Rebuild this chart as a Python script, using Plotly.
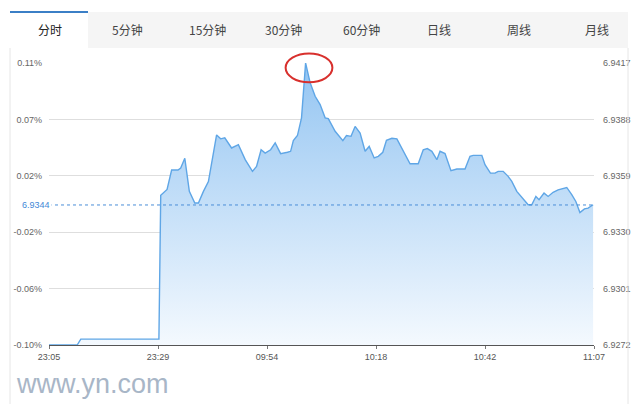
import plotly.graph_objects as go

# ---------------- data ----------------
tab_labels = ["分时", "5分钟", "15分钟", "30分钟", "60分钟", "日线", "周线", "月线"]
x_tick_labels = ["23:05", "23:29", "09:54", "10:18", "10:42", "11:07"]
x_tick_idx = [0, 24, 48, 72, 96, 120]
y_tick_prices = [6.9272, 6.9301, 6.9330, 6.9359, 6.9388, 6.9417]
y_tick_pct = ["-0.10%", "-0.06%", "-0.02%", "0.02%", "0.07%", "0.11%"]
ref_price = 6.9344

minute_idx = [0, 6.2, 7.0, 24.2, 24.6, 26.0, 27.0, 28.4, 29.0, 29.9,
              30.9, 32.1, 32.9, 34.0, 35.1, 36.9, 37.8, 38.7, 40.2, 41.7,
              43.2, 44.8, 45.7, 46.7, 47.6, 48.8, 49.8, 51.0, 52.5, 53.2,
              53.8, 54.7, 55.6, 56.5, 57.5, 58.6, 59.7, 60.8, 61.5, 63.0,
              64.7, 65.5, 66.5, 67.4, 68.5, 69.6, 70.5, 71.6, 72.5, 73.5,
              74.3, 75.5, 76.6, 78.0, 79.5, 81.3, 82.4, 83.3, 84.3, 85.4,
              86.1, 87.2, 88.5, 89.8, 91.6, 92.7, 93.4, 95.3, 96.0, 97.2,
              98.2, 98.9, 100.0, 101.1, 101.9, 103.0, 104.4, 105.5, 106.3, 107.2,
              107.9, 109.0, 109.9, 111.0, 112.1, 114.0, 115.1, 116.0, 116.9, 117.9,
              118.7, 119.8]
price = [6.9272, 6.9272, 6.9275, 6.9275, 6.9349, 6.9352, 6.9362, 6.9362, 6.9363, 6.9368,
         6.9351, 6.9345, 6.9345, 6.9351, 6.9356, 6.9380, 6.9378, 6.93785, 6.93733, 6.93750,
         6.93673, 6.93613, 6.93638, 6.93724, 6.93707, 6.93724, 6.93759, 6.93704, 6.93711, 6.93716,
         6.93771, 6.93797, 6.93888, 6.9417, 6.94068, 6.93999, 6.93956, 6.93888, 6.93884, 6.93819,
         6.93771, 6.93797, 6.93793, 6.93844, 6.93810, 6.93716, 6.93741, 6.93682, 6.9369, 6.93711,
         6.93772, 6.93783, 6.93780, 6.93716, 6.93652, 6.93652, 6.93724, 6.9373, 6.93716, 6.93673,
         6.93716, 6.93704, 6.93616, 6.93625, 6.93625, 6.9369, 6.93695, 6.93695, 6.93647, 6.93604,
         6.93604, 6.93613, 6.93613, 6.93587, 6.93561, 6.9351, 6.9347, 6.93441, 6.93441, 6.93484,
         6.93467, 6.93501, 6.93484, 6.93505, 6.93518, 6.9353, 6.93493, 6.93458, 6.93401, 6.9342,
         6.93424, 6.93441]
assert len(minute_idx) == len(price)

# ---------------- layout geometry (pixels) ----------------
W, H = 640, 404
L, R, T, B = 49, 594, 63, 345
ymin, ymax = y_tick_prices[0], y_tick_prices[-1]
xmin, xmax = x_tick_idx[0], x_tick_idx[-1]


def px(x):
    return (x - L) / (R - L)


def py(y):
    return (B - y) / (B - T)


CJK = "Noto Sans CJK SC, Microsoft YaHei, sans-serif"
NUM = "Liberation Sans, Arial, sans-serif"

fig = go.Figure()

fig.add_trace(go.Scatter(
    x=minute_idx, y=price, mode="lines",
    line=dict(color="#5fa6e6", width=1.4),
    fill="tozeroy",
    fillgradient=dict(type="vertical", start=ymin, stop=ymax,
                      colorscale=[[0, "#f4f9fe"], [1, "#94c5f2"]]),
    hoverinfo="skip", showlegend=False,
))

fig.add_trace(go.Scatter(
    x=[xmin, xmax], y=[ref_price, ref_price], mode="lines", yaxis="y2",
    line=dict(color="#4b8fd8", width=1, dash="3px,3px"),
    hoverinfo="skip", showlegend=False,
))

shapes = []
annotations = []

# tab bar
shapes.append(dict(type="rect", xref="paper", yref="paper",
                   x0=px(10), x1=px(628), y0=py(48), y1=py(12),
                   fillcolor="#f5f5f5", line=dict(width=0), layer="below"))
shapes.append(dict(type="rect", xref="paper", yref="paper",
                   x0=px(10), x1=px(88), y0=py(48), y1=py(12),
                   fillcolor="#ffffff", line=dict(width=0), layer="below"))
shapes.append(dict(type="line", xref="paper", yref="paper",
                   x0=px(10), x1=px(88), y0=py(12), y1=py(12),
                   line=dict(color="#3b7fc6", width=2)))
# panel borders
for xb in (10, 628):
    shapes.append(dict(type="line", xref="paper", yref="paper",
                       x0=px(xb), x1=px(xb), y0=py(404), y1=py(48),
                       line=dict(color="#e6e6e6", width=1)))

tab_centers = [50, 127, 207, 283, 361, 439, 519, 597]
for i, (lab, cx) in enumerate(zip(tab_labels, tab_centers)):
    annotations.append(dict(
        text=lab, xref="paper", yref="paper", x=px(cx), y=py(29.5),
        xanchor="center", yanchor="middle", showarrow=False,
        font=dict(family=CJK, size=12, color="#222" if i == 0 else "#444")))

# reference price label
annotations.append(dict(
    text=f"{ref_price:.4f}", xref="paper", yref="y2", x=px(52), y=ref_price,
    xanchor="right", yanchor="middle", showarrow=False, bgcolor="#ffffff",
    font=dict(family=NUM, size=9, color="#3f88d6")))

# watermark
annotations.append(dict(
    text="www.yn.com", xref="paper", yref="paper", x=px(14), y=py(384),
    xanchor="left", yanchor="middle", showarrow=False,
    font=dict(family=NUM, size=27, color="#a8b6c7")))

# red ellipse around the peak
pk = max(range(len(price)), key=lambda i: price[i])
pkx, pky = minute_idx[pk], price[pk]
span_x = xmax - xmin
span_y = ymax - ymin
shapes.append(dict(type="circle", xref="paper", yref="paper",
                   x0=(pkx - 4.4 - xmin) / span_x, x1=(pkx + 5.9 - xmin) / span_x,
                   y0=(pky - 0.00099 - ymin) / span_y, y1=(pky + 0.00049 - ymin) / span_y,
                   line=dict(color="#d8302d", width=2)))

fig.update_layout(
    width=W, height=H,
    margin=dict(l=L, r=W - R, t=T, b=H - B, pad=0),
    paper_bgcolor="#ffffff", plot_bgcolor="#ffffff",
    showlegend=False,
    shapes=shapes, annotations=annotations,
    xaxis=dict(range=[xmin, xmax], tickvals=x_tick_idx, ticktext=x_tick_labels,
               showgrid=False, zeroline=False, showline=True, linecolor="#555",
               linewidth=1, ticks="outside", ticklen=3, tickcolor="#777",
               automargin=False,
               tickfont=dict(family=NUM, size=9, color="#555")),
    yaxis=dict(range=[ymin, ymax], tickvals=y_tick_prices, ticktext=y_tick_pct,
               showgrid=True, gridcolor="#dedede", gridwidth=1, zeroline=False,
               showline=False, ticks="", ticklabelstandoff=6, automargin=False,
               tickfont=dict(family=NUM, size=9, color="#666")),
    yaxis2=dict(range=[ymin, ymax], overlaying="y", side="right",
                tickvals=y_tick_prices,
                ticktext=[f"{v:.4f}" for v in y_tick_prices],
                showgrid=False, zeroline=False, showline=False, ticks="",
                ticklabelstandoff=8, automargin=False,
                tickfont=dict(family=NUM, size=9, color="#666")),
)

fig.write_html("out.html", config={"displayModeBar": False},
               post_script="document.body.style.margin='0';")
